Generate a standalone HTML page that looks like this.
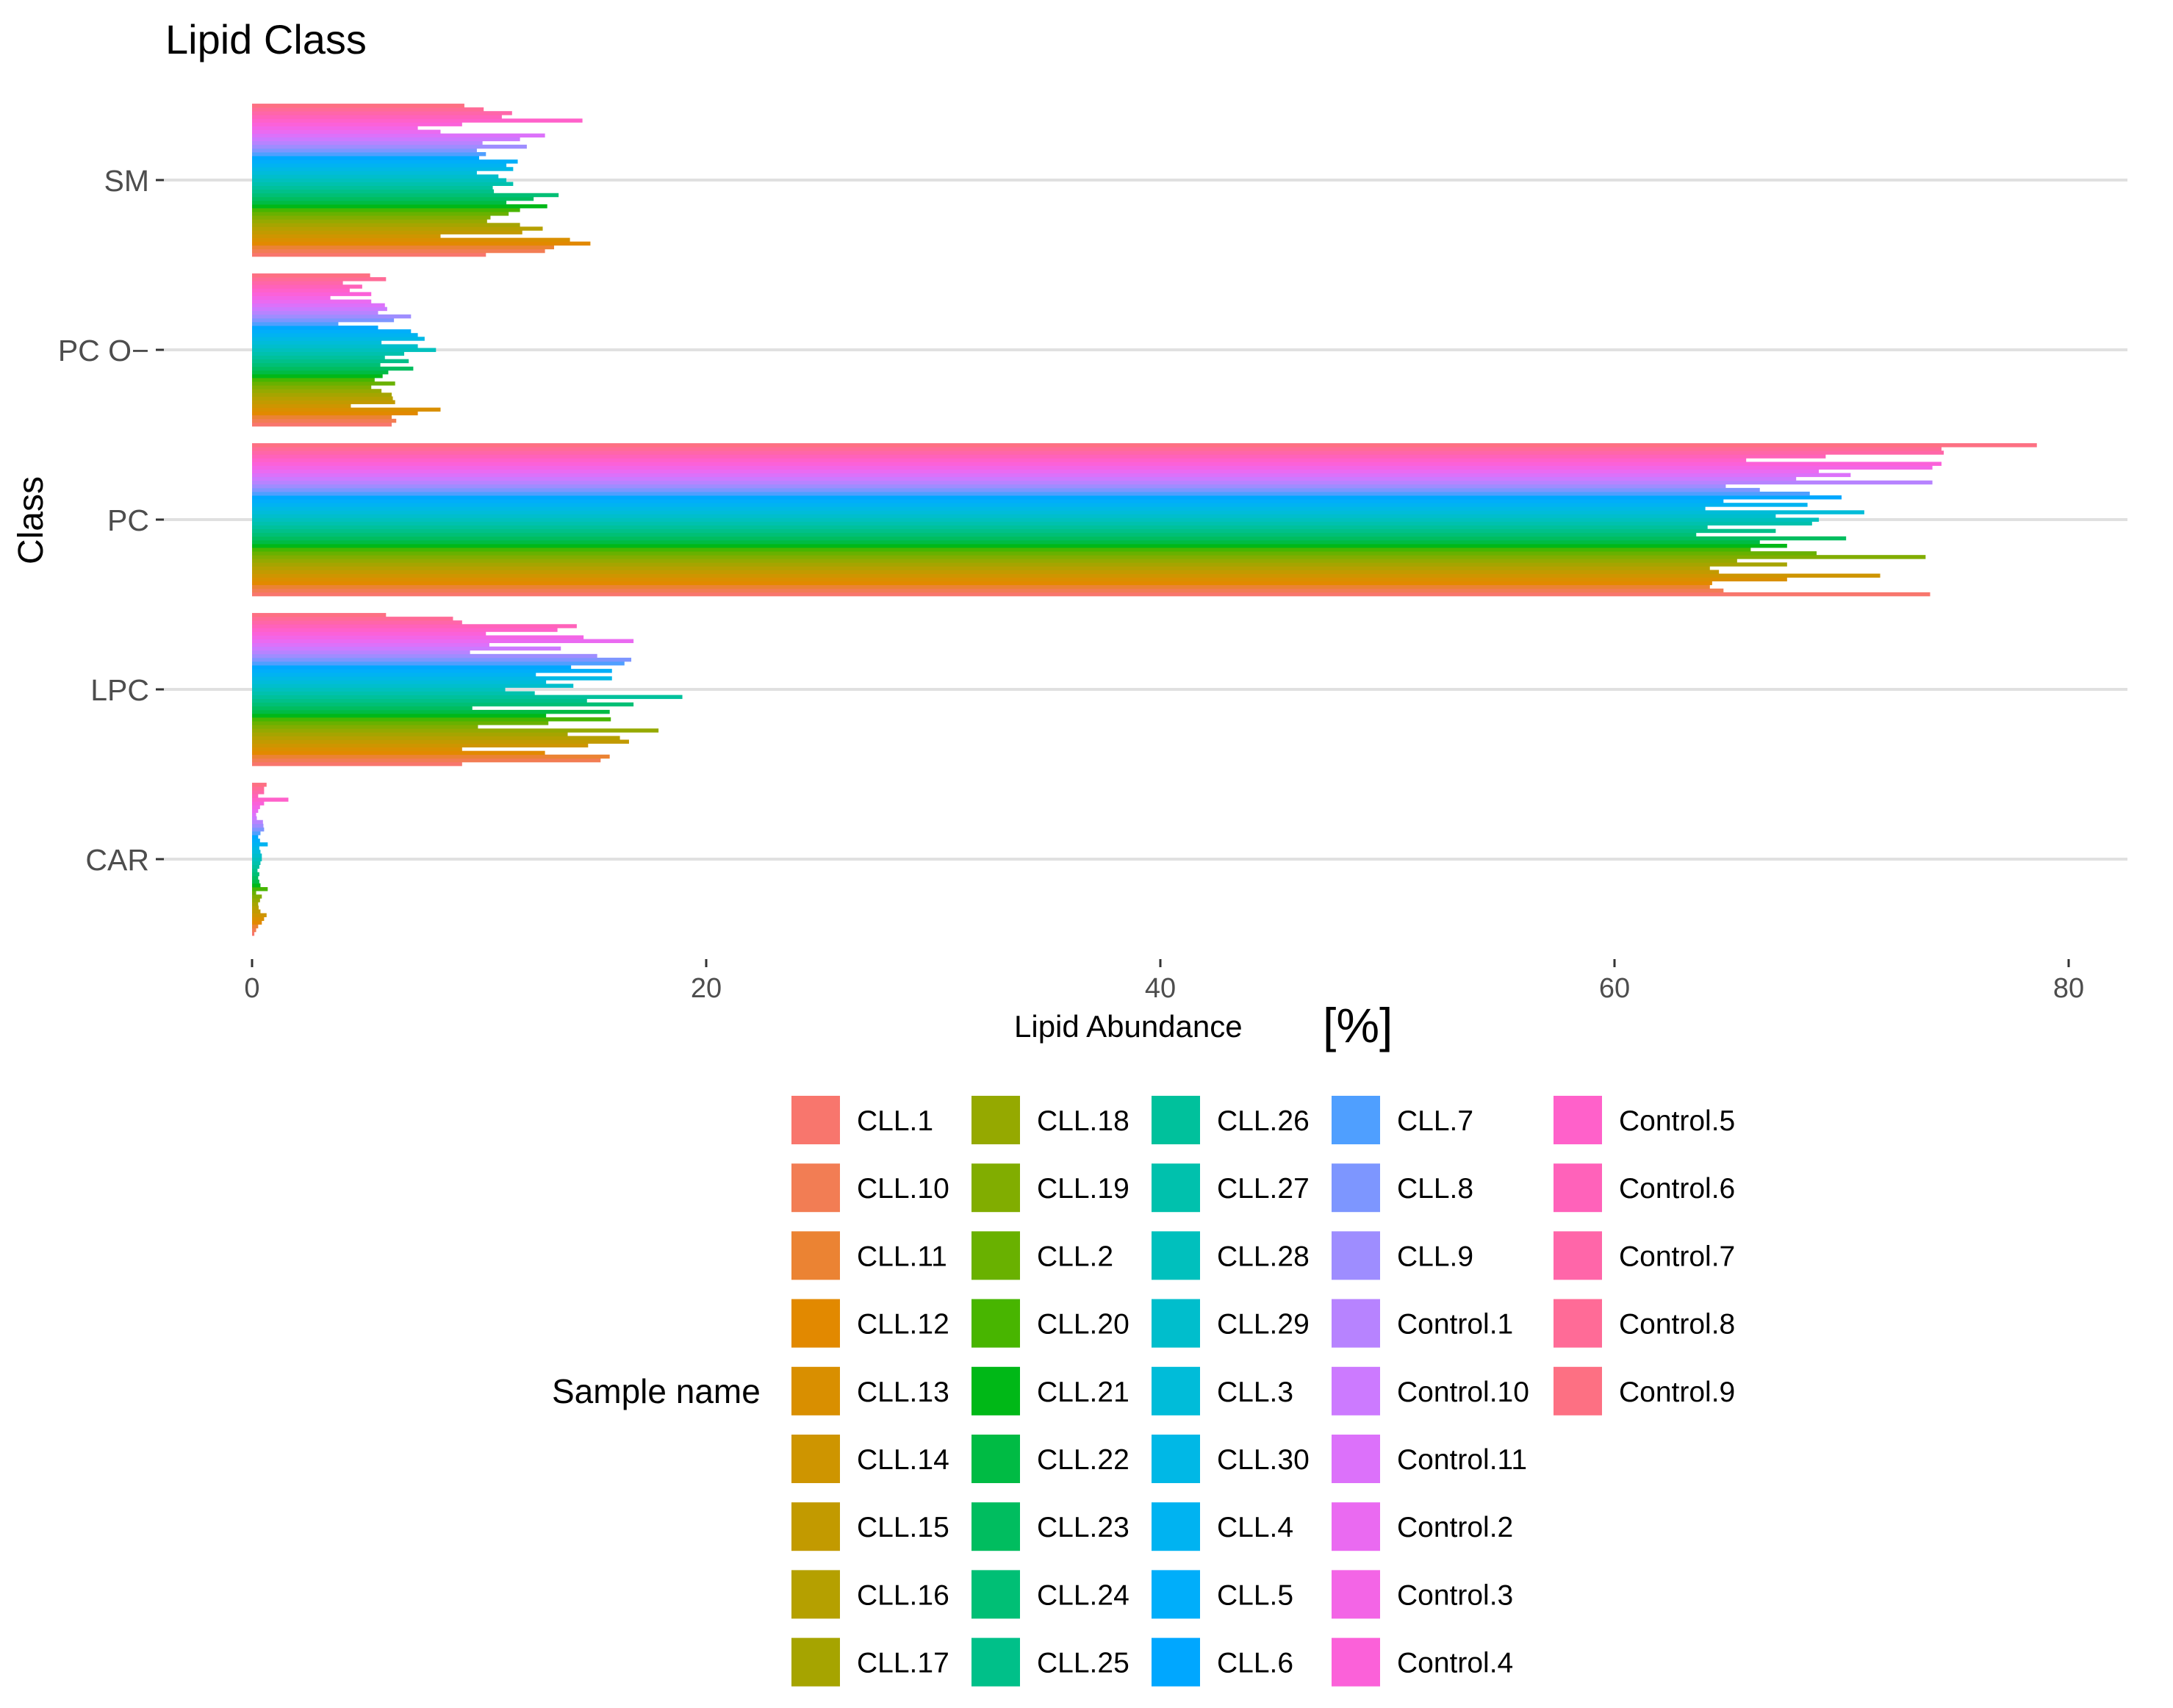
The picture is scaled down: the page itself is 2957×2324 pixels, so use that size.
<!DOCTYPE html>
<html><head><meta charset="utf-8"><style>
html,body{margin:0;padding:0;background:#fff;}
svg{display:block;font-family:"Liberation Sans",Arial,sans-serif;}
</style></head><body>
<svg id="chart" width="2957" height="2324" viewBox="0 0 2957 2324" xmlns="http://www.w3.org/2000/svg">
<rect x="0" y="0" width="2957" height="2324" fill="#fff"/>
<text x="225" y="73" font-size="56" fill="#000">Lipid Class</text>
<text transform="translate(58,708) rotate(-90)" text-anchor="middle" font-size="48" fill="#000">Class</text>
<text x="1380" y="1411" font-size="42" fill="#000">Lipid Abundance</text>
<text x="1800" y="1418" font-size="66" fill="#000">[%]</text>
<g id="grid"></g><g id="bars"></g><g id="axes"></g><g id="legend"></g>
</svg>
<script>
const classes = ["SM","PC O\u2212","PC","LPC","CAR"];
const samples = ["CLL.1","CLL.10","CLL.11","CLL.12","CLL.13","CLL.14","CLL.15","CLL.16","CLL.17","CLL.18","CLL.19","CLL.2","CLL.20","CLL.21","CLL.22","CLL.23","CLL.24","CLL.25","CLL.26","CLL.27","CLL.28","CLL.29","CLL.3","CLL.30","CLL.4","CLL.5","CLL.6","CLL.7","CLL.8","CLL.9","Control.1","Control.10","Control.11","Control.2","Control.3","Control.4","Control.5","Control.6","Control.7","Control.8","Control.9"];
const smValues = [10.3,12.9,13.3,14.9,14.0,8.3,11.9,12.8,11.8,10.35,10.5,11.3,11.8,13.0,11.2,12.4,13.5,10.65,10.6,11.5,11.2,10.85,9.9,11.5,11.2,11.7,10.0,10.3,9.9,12.1,10.15,11.8,12.9,8.3,7.3,9.25,14.55,11.0,11.45,10.2,9.35];
const pcoValues = [6.15,6.35,6.15,7.3,8.3,4.35,6.3,6.2,6.15,5.7,5.25,6.3,5.4,5.75,6.0,7.1,5.65,6.9,5.85,6.7,8.1,7.3,5.7,7.6,7.3,7.0,5.55,3.8,6.25,7.0,5.55,5.95,5.85,5.25,3.45,5.25,4.3,4.85,4.0,5.9,5.2];
const pcValues = [73.9,64.8,64.2,64.3,67.6,71.7,64.6,64.2,67.6,65.4,73.7,68.9,66.0,67.6,66.4,70.2,63.6,67.1,64.1,68.7,69.0,67.1,71.0,64.0,68.5,64.8,70.0,68.6,66.4,64.9,74.0,68.0,70.4,69.0,74.0,74.4,65.8,69.3,74.5,74.4,78.6];
const lpcValues = [9.25,15.35,15.75,12.9,9.25,14.8,16.6,16.2,13.9,17.9,9.95,13.05,15.8,12.95,15.75,9.7,16.8,14.75,18.95,12.45,11.15,14.15,12.95,15.85,12.5,15.85,14.05,16.4,16.7,15.2,9.6,13.6,10.45,16.8,14.6,10.3,13.45,14.3,9.25,8.85,5.9];
const carValues = [0.1,0.18,0.27,0.43,0.53,0.64,0.37,0.29,0.27,0.35,0.43,0.18,0.69,0.37,0.32,0.27,0.32,0.24,0.32,0.37,0.43,0.43,0.37,0.32,0.69,0.35,0.27,0.37,0.53,0.5,0.48,0.21,0.18,0.27,0.35,0.53,1.6,0.27,0.53,0.53,0.64];
const xTicks = [0,20,40,60,80];
const seriesByClass = [smValues,pcoValues,pcValues,lpcValues,carValues];

const NS = "http://www.w3.org/2000/svg";
function mk(tag, attrs, parent){const e=document.createElementNS(NS,tag);for(const k in attrs)e.setAttribute(k,attrs[k]);parent.appendChild(e);return e;}
const X0=343, XPER=30.9;
function xScale(v){return X0+v*XPER;}
const Y_FIRST=245, Y_STEP=231;
function yCenter(ci){return Y_FIRST+ci*Y_STEP;}
const panelLeft=223, panelRight=2895;

function hcl2hex(h,c,l){
  const hr=h*Math.PI/180, u=c*Math.cos(hr), v=c*Math.sin(hr);
  const Yn=100, un=0.19783, vn=0.46832;
  const Y = l>8 ? Yn*Math.pow((l+16)/116,3) : Yn*l/903.3;
  const up=u/(13*l)+un, vp=v/(13*l)+vn;
  const X=Y*9*up/(4*vp), Z=Y*(12-3*up-20*vp)/(4*vp);
  const x=X/100,y=Y/100,z=Z/100;
  let r=3.2404542*x-1.5371385*y-0.4985314*z;
  let g=-0.9692660*x+1.8760108*y+0.0415560*z;
  let b=0.0556434*x-0.2040259*y+1.0572252*z;
  const gam=t=>{t=t<=0.0031308?12.92*t:1.055*Math.pow(t,1/2.4)-0.055;t=Math.max(0,Math.min(1,t));return Math.round(t*255).toString(16).padStart(2,'0');};
  return '#'+gam(r)+gam(g)+gam(b);
}
const N=samples.length;
const colors=[];
for(let i=0;i<N;i++){const h=15+i*(360-360/N)/(N-1);colors.push(hcl2hex(h,100,65));}

const grid=document.getElementById('grid'), bars=document.getElementById('bars'), axes=document.getElementById('axes'), legend=document.getElementById('legend');
const groupH=0.9*Y_STEP, barH=groupH/N;
classes.forEach((cl,ci)=>{
  const yc=yCenter(ci);
  const gl=mk('line',{x1:panelLeft,x2:panelRight,y1:yc,y2:yc,stroke:'#e0e0e0','stroke-width':4},grid);
  
  
  const tk=mk('line',{x1:212,x2:223,y1:yc,y2:yc,stroke:'#333','stroke-width':3},axes);
  
  
  const lb=mk('text',{x:203,y:yc+15,'text-anchor':'end','font-size':41,fill:'#4d4d4d'},axes);
  lb.textContent=cl;
  
  
  const vals=seriesByClass[ci];
  const bottom=yc+groupH/2;
  vals.forEach((v,i)=>{
    const y=bottom-(i+1)*barH;
    const r=mk('rect',{x:xScale(0),y:y,width:Math.max(0,xScale(v)-xScale(0)),height:barH+0.4,fill:colors[i]},bars);
    
    
  });
});
xTicks.forEach(t=>{
  const x=xScale(t);
  const tk=mk('line',{x1:x,x2:x,y1:1305,y2:1316,stroke:'#333','stroke-width':3},axes);
  
  
  const lb=mk('text',{x:x,y:1357,'text-anchor':'middle','font-size':38,fill:'#4d4d4d'},axes);
  lb.textContent=String(t);
  
  
});
const colX=[1077,1322,1567,1812,2114], ROW0=1524, ROWSTEP=92.2, KEY=66;
const lt=mk('text',{x:751,y:ROW0+4*ROWSTEP+16,'font-size':46,fill:'#000'},legend);
lt.textContent='Sample name';


samples.forEach((s,i)=>{
  const col=Math.floor(i/9), row=i%9;
  const cy=ROW0+row*ROWSTEP;
  const g=mk('g',{},legend);
  
  
  const k=mk('rect',{x:colX[col],y:cy-KEY/2,width:KEY,height:KEY,fill:colors[i]},g);
  
  
  const t=mk('text',{x:colX[col]+89,y:cy+14,'font-size':39,fill:'#000'},g);
  t.textContent=s;
  
  
});
</script>
</body></html>
